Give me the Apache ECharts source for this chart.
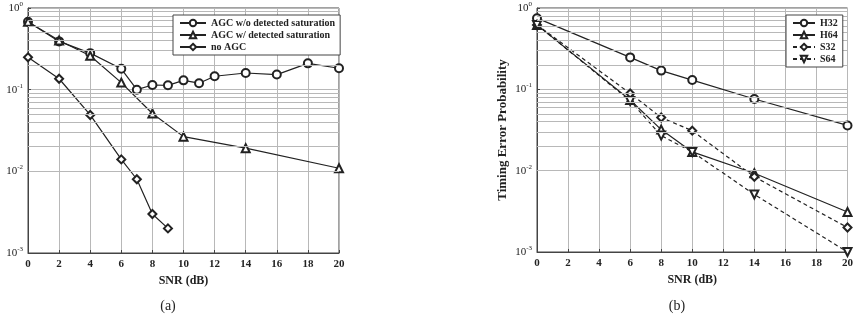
<!DOCTYPE html>
<html>
<head>
<meta charset="utf-8">
<script src="https://cdn.jsdelivr.net/npm/echarts@6/dist/echarts.min.js"></script>
<style>
  html, body { margin: 0; padding: 0; background: #fff; }
  #main { width: 856px; height: 314px; }
</style>
</head>
<body>
<div id="main"></div>
<script>
// (a) SNR points of each curve
var snrA1 = [0, 2, 4, 6, 7, 8, 9, 10, 11, 12, 14, 16, 18, 20];
var agcNoSat = [0.68, 0.39, 0.28, 0.18, 0.10, 0.114, 0.113, 0.13, 0.12, 0.146, 0.16, 0.153, 0.21, 0.183];
var snrA2 = [0, 2, 4, 6, 8, 10, 14, 20];
var agcSat = [0.68, 0.40, 0.26, 0.122, 0.051, 0.0266, 0.0192, 0.0109];
var snrA3 = [0, 2, 4, 6, 7, 8, 9];
var noAgc = [0.249, 0.136, 0.049, 0.014, 0.008, 0.003, 0.002];

// (b)
var snrB = [0, 6, 8, 10, 14, 20];
var h32 = [0.75, 0.247, 0.17, 0.13, 0.076, 0.036];
var h64 = [0.62, 0.074, 0.032, 0.017, 0.0093, 0.0031];
var s32 = [0.62, 0.089, 0.045, 0.031, 0.0084, 0.002];
var s64 = [0.62, 0.072, 0.027, 0.017, 0.0051, 0.001];

var namesA = ['AGC w/o detected saturation', 'AGC w/ detected saturation', 'no AGC'];
var namesB = ['H32', 'H64', 'S32', 'S64'];

// minor grid lines of the log axis (2..9 in every decade)
var minorLines = [];
[0.001, 0.01, 0.1].forEach(function (d) {
  for (var k = 2; k <= 9; k++) minorLines.push({ yAxis: +(d * k).toPrecision(3) });
});

var font = 'Liberation Serif';
var ink = '#222';
var gridGrey = '#b8b8b8';

function pairs(xs, ys) {
  return xs.map(function (x, i) { return [x, ys[i]]; });
}

function xAxisOf(idx) {
  return {
    gridIndex: idx, type: 'value', min: 0, max: 20, interval: 2,
    name: 'SNR (dB)', nameLocation: 'middle', nameGap: 22,
    nameTextStyle: { fontFamily: font, fontWeight: 'bold', fontSize: 12, color: ink },
    axisLine: { lineStyle: { color: '#444' } },
    axisTick: { inside: true, length: 3, lineStyle: { color: '#444' } },
    axisLabel: { fontFamily: font, fontWeight: 'bold', fontSize: 11, color: ink, margin: 6 },
    splitLine: { show: true, lineStyle: { color: gridGrey, width: 1 } }
  };
}

function yAxisOf(idx, withName) {
  return {
    gridIndex: idx, type: 'log', min: 0.001, max: 1, logBase: 10,
    name: withName ? 'Timing Error Probability' : '',
    nameLocation: 'middle', nameGap: 28,
    nameTextStyle: { fontFamily: font, fontWeight: 'bold', fontSize: 13, color: ink },
    axisLine: { lineStyle: { color: '#444' } },
    axisTick: { inside: true, length: 3, lineStyle: { color: '#444' } },
    axisLabel: {
      margin: 5,
      formatter: function (v) {
        var e = Math.round(Math.log10(v));
        return '{b|10}{s|' + e + '}';
      },
      rich: {
        b: { fontFamily: font, fontSize: 11, color: ink },
        s: { fontFamily: font, fontSize: 7, color: ink, verticalAlign: 'bottom', padding: [0, 0, 8, 0] }
      }
    },
    splitLine: { show: true, lineStyle: { color: gridGrey, width: 1 } }
  };
}

function lineSeries(name, gi, data, symbol, dashed, extra) {
  var s = {
    name: name, type: 'line', xAxisIndex: gi, yAxisIndex: gi,
    data: data, symbol: symbol, symbolSize: 8,
    lineStyle: { color: ink, width: 1.2, type: dashed ? [4, 3] : 'solid' },
    itemStyle: { color: ink, borderColor: ink, borderWidth: 1.2 },
    emphasis: { disabled: true }, z: 3
  };
  return Object.assign(s, extra || {});
}

// empty helper series that only carries the minor grid lines, kept under the curves
function minorGrid(gi) {
  return {
    type: 'line', xAxisIndex: gi, yAxisIndex: gi, data: [], z: 1, silent: true,
    markLine: {
      silent: true, symbol: 'none', label: { show: false }, animation: false,
      lineStyle: { color: gridGrey, width: 1, type: 'solid' },
      data: minorLines
    }
  };
}

var legendText = { fontFamily: font, fontWeight: 'bold', fontSize: 10, color: ink };

var option = {
  backgroundColor: '#fff',
  animation: false,
  grid: [
    { left: 28, top: 8, width: 311, height: 245, show: true, borderColor: '#444', borderWidth: 1, backgroundColor: 'transparent' },
    { left: 537, top: 8, width: 311, height: 244, show: true, borderColor: '#444', borderWidth: 1, backgroundColor: 'transparent' }
  ],
  xAxis: [xAxisOf(0), xAxisOf(1)],
  yAxis: [yAxisOf(0, false), yAxisOf(1, true)],
  legend: [
    {
      data: namesA, orient: 'vertical', left: 173, top: 15, itemGap: 2,
      itemWidth: 26, itemHeight: 8, padding: [3, 5, 3, 6],
      backgroundColor: '#fff', borderColor: '#444', borderWidth: 1,
      textStyle: legendText, z: 10
    },
    {
      data: namesB, orient: 'vertical', left: 786, top: 15, itemGap: 2,
      itemWidth: 22, itemHeight: 8, padding: [3, 5, 3, 6],
      backgroundColor: '#fff', borderColor: '#444', borderWidth: 1,
      textStyle: legendText, z: 10
    }
  ],
  title: [
    { text: '(a)', left: 163, top: 294, textAlign: 'center', textStyle: { fontFamily: font, fontWeight: 'normal', fontSize: 14, color: ink } },
    { text: '(b)', left: 672, top: 294, textAlign: 'center', textStyle: { fontFamily: font, fontWeight: 'normal', fontSize: 14, color: ink } }
  ],
  series: [
    minorGrid(0),
    minorGrid(1),
    lineSeries(namesA[0], 0, pairs(snrA1, agcNoSat), 'emptyCircle', false),
    lineSeries(namesA[1], 0, pairs(snrA2, agcSat), 'emptyTriangle', false),
    lineSeries(namesA[2], 0, pairs(snrA3, noAgc), 'emptyDiamond', false),
    lineSeries(namesB[0], 1, pairs(snrB, h32), 'emptyCircle', false),
    lineSeries(namesB[1], 1, pairs(snrB, h64), 'emptyTriangle', false),
    lineSeries(namesB[2], 1, pairs(snrB, s32), 'emptyDiamond', true),
    lineSeries(namesB[3], 1, pairs(snrB, s64), 'emptyTriangle', true, { symbolRotate: 180 })
  ]
};

var chart = echarts.init(document.getElementById('main'), null, { renderer: 'canvas' });
chart.setOption(option);
</script>
</body>
</html>
